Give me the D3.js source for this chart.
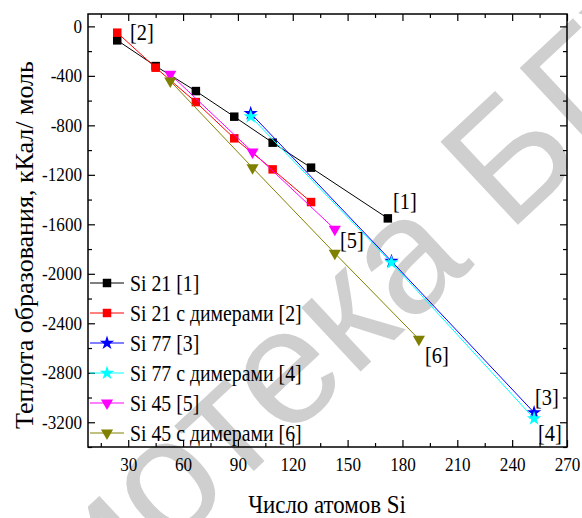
<!DOCTYPE html>
<html lang="ru">
<head>
<meta charset="utf-8">
<title>Теплота образования</title>
<script src="https://cdn.jsdelivr.net/npm/d3@7"></script>
<style>
  body { margin: 0; background: #fff; }
  svg text { font-family: "Liberation Serif", "Times New Roman", serif; fill: #000; }
  .tick text { font-size: 18px; font-family: "Liberation Serif", "Times New Roman", serif; }
  .tick line { stroke: #000; stroke-width: 1.2; }
  .domain { display: none; }
  .series { fill: none; stroke-width: 1; }
  .wm text { font-family: "Liberation Sans", Arial, sans-serif; fill: #cfcfcf; font-size: 165px; }
</style>
</head>
<body>
<script>
// data
var seriesNames = ["Si 21 [1]", "Si 21 с димерами [2]", "Si 77 [3]",
                   "Si 77 с димерами [4]", "Si 45 [5]", "Si 45 с димерами [6]"];
var si21_x  = [24, 45, 67, 88, 109, 130, 172];
var si21_y  = [-113, -321, -523, -730, -940, -1142, -1552];
var si21d_x = [24, 45, 67, 88, 109, 130];
var si21d_y = [-51, -334, -612, -905, -1156, -1420];
var si77_x  = [97, 174, 252];
var si77_y  = [-703, -1898, -3122];
var si77d_x = [97, 174, 252];
var si77d_y = [-730, -1910, -3171];
var si45_x  = [53, 98, 143];
var si45_y  = [-388, -1015, -1640];
var si45d_x = [53, 98, 143, 189];
var si45d_y = [-442, -1142, -1834, -2529];
var xTicks = [30, 60, 90, 120, 150, 180, 210, 240, 270];
var yTicks = [0, -400, -800, -1200, -1600, -2000, -2400, -2800, -3200];
var endLabels = ["[1]", "[2]", "[3]", "[4]", "[5]", "[6]"];

var w = 582, h = 518;
var padL = 88, padR = 567, padT = 14, padB = 447;

var colors = ["#000000", "#ff0000", "#0000ff", "#00ffff", "#ff00ff", "#808000"];
var shapes = [d3.symbolSquare, d3.symbolSquare, d3.symbolStar, d3.symbolStar, d3.symbolTriangle, d3.symbolTriangle];
var sizes = [72, 72, 64, 64, 64, 64];
var flip = [false, false, false, false, true, true];

var xs = [si21_x, si21d_x, si77_x, si77d_x, si45_x, si45d_x];
var ys = [si21_y, si21d_y, si77_y, si77d_y, si45_y, si45d_y];
var series = seriesNames.map(function(n, i) {
  return { name: n, pts: xs[i].map(function(x, j) { return [x, ys[i][j]]; }) };
});

var xScale = d3.scaleLinear().domain([8, 270]).range([padL, padR]);
var yScale = d3.scaleLinear().domain([-3400, 100]).range([padB, padT]);

var svg = d3.select("body").append("svg").attr("width", w).attr("height", h);

// watermark
var wm = svg.append("g")
  .attr("class", "wm")
  .attr("transform", "translate(508,234) rotate(-43)");
wm.append("text").attr("x", -45).attr("text-anchor", "end").text("Библиотека");
wm.append("text").attr("x", 0).text("БГУИР");

function condense(sel, k) {
  sel.each(function() {
    var len = this.getComputedTextLength();
    d3.select(this).attr("textLength", len * k).attr("lengthAdjust", "spacingAndGlyphs");
  });
}

// axes, ticks inward on all four sides
var xMinor = d3.range(15, 271, 30);
var yMinor = d3.range(-3400, 101, 200).filter(function(v) { return v % 400 !== 0; });

svg.append("g").attr("transform", "translate(0," + padB + ")")
  .call(d3.axisBottom(xScale).tickValues(xTicks).tickSize(-7).tickPadding(11).tickFormat(d3.format("d")));
svg.append("g").attr("transform", "translate(0," + padB + ")")
  .call(d3.axisBottom(xScale).tickValues(xMinor).tickSize(-4).tickFormat(""));
svg.append("g").attr("transform", "translate(0," + padT + ")")
  .call(d3.axisTop(xScale).tickValues(xTicks).tickSize(-7).tickFormat(""));
svg.append("g").attr("transform", "translate(0," + padT + ")")
  .call(d3.axisTop(xScale).tickValues(xMinor).tickSize(-4).tickFormat(""));

svg.append("g").attr("transform", "translate(" + padL + ",0)")
  .call(d3.axisLeft(yScale).tickValues(yTicks).tickSize(-7).tickPadding(6).tickFormat(function(d) { return String(d); }));
svg.append("g").attr("transform", "translate(" + padL + ",0)")
  .call(d3.axisLeft(yScale).tickValues(yMinor).tickSize(-4).tickFormat(""));
svg.append("g").attr("transform", "translate(" + padR + ",0)")
  .call(d3.axisRight(yScale).tickValues(yTicks).tickSize(-7).tickFormat(""));
svg.append("g").attr("transform", "translate(" + padR + ",0)")
  .call(d3.axisRight(yScale).tickValues(yMinor).tickSize(-4).tickFormat(""));

svg.selectAll(".tick text").filter(function() { return this.textContent !== ""; }).call(condense, 0.95);

svg.append("rect")
  .attr("x", padL).attr("y", padT)
  .attr("width", padR - padL).attr("height", padB - padT)
  .attr("fill", "none").attr("stroke", "#000").attr("stroke-width", 1.5);

// series
var line = d3.line()
  .x(function(d) { return xScale(d[0]); })
  .y(function(d) { return yScale(d[1]); });

series.forEach(function(s, i) {
  svg.append("path").datum(s.pts)
    .attr("class", "series")
    .attr("stroke", colors[i])
    .attr("d", line);
  svg.selectAll(".m" + i).data(s.pts).enter()
    .append("path")
    .attr("class", "m" + i)
    .attr("d", d3.symbol().type(shapes[i]).size(sizes[i]))
    .attr("fill", colors[i])
    .attr("transform", function(d) {
      return "translate(" + xScale(d[0]) + "," + yScale(d[1]) + ")" + (flip[i] ? " rotate(180)" : "");
    });
});

// end labels
var labelPos = [[393, 209], [130, 40], [535, 405], [538, 441], [340, 248], [425, 363]];
svg.selectAll(".endlab").data(endLabels).enter()
  .append("text")
  .attr("class", "endlab")
  .attr("x", function(d, i) { return labelPos[i][0]; })
  .attr("y", function(d, i) { return labelPos[i][1]; })
  .style("font-size", "24px")
  .text(function(d) { return d; })
  .call(condense, 0.85);

// legend
var leg = svg.append("g");
series.forEach(function(s, i) {
  var cy = 283 + i * 30;
  leg.append("line").attr("x1", 90).attr("x2", 124).attr("y1", cy).attr("y2", cy)
    .attr("stroke", colors[i]).attr("stroke-width", 1);
  leg.append("path")
    .attr("d", d3.symbol().type(shapes[i]).size(sizes[i]))
    .attr("fill", colors[i])
    .attr("transform", "translate(107," + cy + ")" + (flip[i] ? " rotate(180)" : ""));
  leg.append("text")
    .attr("x", 130).attr("y", cy + 8)
    .style("font-size", "23px")
    .text(s.name)
    .call(condense, 0.86);
});

// axis titles
svg.append("text")
  .attr("x", 327).attr("y", 513)
  .attr("text-anchor", "middle")
  .style("font-size", "26px")
  .text("Число атомов Si")
  .call(condense, 0.88);

svg.append("text")
  .attr("transform", "translate(33,245) rotate(-90)")
  .attr("text-anchor", "middle")
  .style("font-size", "26px")
  .text("Теплота образования, кКал/ моль");
</script>
</body>
</html>
